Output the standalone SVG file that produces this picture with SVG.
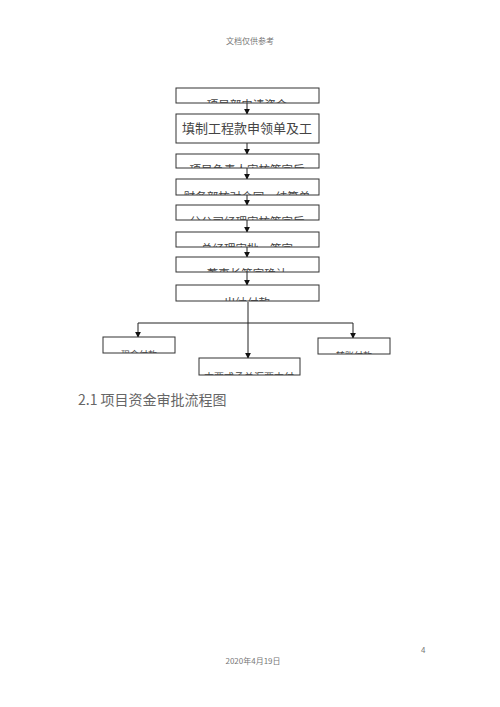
<svg xmlns="http://www.w3.org/2000/svg" width="500" height="707" viewBox="0 0 500 707">
<style>
.box{fill:#fff;stroke:#333;stroke-width:1}
.t{font-family:"Noto Sans CJK SC","Liberation Sans",sans-serif;fill:#444;text-anchor:middle}
.cl{font-size:11.5px}
.ln{stroke:#222;stroke-width:1;fill:none}
.meta{font-family:"Noto Sans CJK SC","Liberation Serif",serif;fill:#777}
</style>
<defs>
<marker id="ah" viewBox="0 0 8 8" refX="7" refY="4" markerWidth="6" markerHeight="6" orient="auto" markerUnits="userSpaceOnUse">
<path d="M0,0 L8,4 L0,8 Z" fill="#111"/>
</marker>
<clipPath id="c1"><rect x="176" y="88" width="143" height="15"/></clipPath>
<clipPath id="c3"><rect x="176" y="154" width="143" height="14"/></clipPath>
<clipPath id="c4"><rect x="176" y="179" width="143" height="16"/></clipPath>
<clipPath id="c5"><rect x="176" y="205" width="143" height="15"/></clipPath>
<clipPath id="c6"><rect x="176" y="232" width="143" height="15"/></clipPath>
<clipPath id="c7"><rect x="176" y="257" width="143" height="15"/></clipPath>
<clipPath id="c8"><rect x="176" y="285" width="143" height="16"/></clipPath>
<clipPath id="c9"><rect x="103" y="337" width="72" height="16"/></clipPath>
<clipPath id="c10"><rect x="318" y="338" width="72" height="16"/></clipPath>
<clipPath id="c11"><rect x="199" y="358" width="101" height="17"/></clipPath>
</defs>

<text class="meta" x="250" y="44" font-size="8" text-anchor="middle">文档仅供参考</text>

<g id="connectors">
<line class="ln" x1="247" y1="103" x2="247" y2="114" marker-end="url(#ah)"/>
<line class="ln" x1="247" y1="143" x2="247" y2="154" marker-end="url(#ah)"/>
<line class="ln" x1="247" y1="168" x2="247" y2="179" marker-end="url(#ah)"/>
<line class="ln" x1="247" y1="195" x2="247" y2="205" marker-end="url(#ah)"/>
<line class="ln" x1="247" y1="220" x2="247" y2="232" marker-end="url(#ah)"/>
<line class="ln" x1="247" y1="247" x2="247" y2="257" marker-end="url(#ah)"/>
<line class="ln" x1="247" y1="272" x2="247" y2="285" marker-end="url(#ah)"/>
<line class="ln" x1="248" y1="302" x2="248" y2="358" marker-end="url(#ah)"/>
<line class="ln" x1="138" y1="323" x2="353" y2="323"/>
<line class="ln" x1="138" y1="323" x2="138" y2="337" marker-end="url(#ah)"/>
<line class="ln" x1="353" y1="323" x2="353" y2="338" marker-end="url(#ah)"/>
</g>

<g id="n1"><rect class="box" x="176" y="88" width="143" height="15"/>
<text class="t cl" x="247" y="109" clip-path="url(#c1)">项目部申请资金</text></g>
<g id="n2"><rect class="box" x="176" y="114" width="143" height="29"/>
<text class="t" x="247" y="133" font-size="13">填制工程款申领单及工</text></g>
<g id="n3"><rect class="box" x="176" y="154" width="143" height="14"/>
<text class="t cl" x="247" y="174" clip-path="url(#c3)">项目负责人审核签字后</text></g>
<g id="n4"><rect class="box" x="176" y="179" width="143" height="16"/>
<text class="t cl" x="247" y="201" clip-path="url(#c4)">财务部核对合同、结算单</text></g>
<g id="n5"><rect class="box" x="176" y="205" width="143" height="15"/>
<text class="t cl" x="247" y="226" clip-path="url(#c5)">分公司经理审核签字后</text></g>
<g id="n6"><rect class="box" x="176" y="232" width="143" height="15"/>
<text class="t cl" x="247" y="253" clip-path="url(#c6)">总经理审批、签字</text></g>
<g id="n7"><rect class="box" x="176" y="257" width="143" height="15"/>
<text class="t cl" x="247" y="278" clip-path="url(#c7)">董事长签字确认</text></g>
<g id="n8"><rect class="box" x="176" y="285" width="143" height="16"/>
<text class="t cl" x="247" y="307" clip-path="url(#c8)">出纳付款</text></g>
<g id="n9"><rect class="box" x="103" y="337" width="72" height="16"/>
<text class="t" x="139" y="358" font-size="9" clip-path="url(#c9)">现金付款</text></g>
<g id="n10"><rect class="box" x="318" y="338" width="72" height="16"/>
<text class="t" x="354" y="359" font-size="9" clip-path="url(#c10)">转账付款</text></g>
<g id="n11"><rect class="box" x="199" y="358" width="101" height="17"/>
<text class="t" x="249" y="381" font-size="10" clip-path="url(#c11)">支票或承兑汇票支付</text></g>

<text x="78" y="405" font-family="'Noto Sans CJK SC','Liberation Sans',sans-serif" font-size="14" fill="#666">2.1 项目资金审批流程图</text>

<text class="meta" x="421" y="653" font-size="8">4</text>
<text class="meta" x="253" y="664" font-size="8" text-anchor="middle">2020年4月19日</text>
</svg>
